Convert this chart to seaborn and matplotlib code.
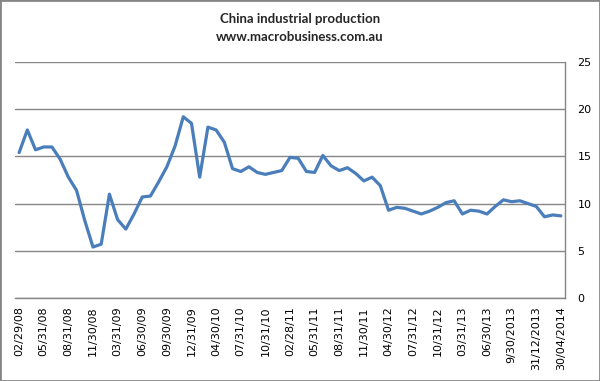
import matplotlib
matplotlib.use('Agg')
import matplotlib.pyplot as plt
import matplotlib.patches as patches
import seaborn as sns
import pandas as pd

# China industrial production, y/y % (monthly, Jan-Feb often combined)
dates = ['02/29/08', '03/31/08', '04/30/08', '05/31/08', '06/30/08', '07/31/08', '08/31/08',
         '09/30/08', '10/31/08', '11/30/08', '12/31/08', '02/28/09', '03/31/09', '04/30/09',
         '05/31/09', '06/30/09', '07/31/09', '08/31/09', '09/30/09', '10/31/09', '11/30/09',
         '12/31/09', '02/28/10', '03/31/10', '04/30/10', '05/31/10', '06/30/10', '07/31/10',
         '08/31/10', '09/30/10', '10/31/10', '11/30/10', '12/31/10', '02/28/11', '03/31/11',
         '04/30/11', '05/31/11', '06/30/11', '07/31/11', '08/31/11', '09/30/11', '10/31/11',
         '11/30/11', '12/31/11', '03/31/12', '04/30/12', '05/31/12', '06/30/12', '07/31/12',
         '08/31/12', '09/30/12', '10/31/12', '11/30/12', '12/31/12', '03/31/13', '04/30/13',
         '05/31/13', '06/30/13', '07/31/13', '08/31/13', '9/30/2013', '10/31/2013', '11/30/2013',
         '31/12/2013', '28/02/2014', '31/03/2014', '30/04/2014']
values = [15.4, 17.8, 15.7, 16.0, 16.0, 14.7, 12.8, 11.4, 8.2, 5.4, 5.7,
          11.0, 8.3, 7.3, 8.9, 10.7, 10.8, 12.3, 13.9, 16.1, 19.2, 18.5,
          12.8, 18.1, 17.8, 16.5, 13.7, 13.4, 13.9, 13.3, 13.1, 13.3, 13.5,
          14.9, 14.8, 13.4, 13.3, 15.1, 14.0, 13.5, 13.8, 13.2, 12.4, 12.8,
          11.9, 9.3, 9.6, 9.5, 9.2, 8.9, 9.2, 9.6, 10.1, 10.3,
          8.9, 9.3, 9.2, 8.9, 9.7, 10.4, 10.2, 10.3, 10.0, 9.7,
          8.6, 8.8, 8.7]

df = pd.DataFrame({'pos': range(len(values)), 'value': values})

sns.set_style('white')
plt.rcParams['font.family'] = ['DejaVu Sans']

fig = plt.figure(figsize=(6, 3.81), dpi=100)
ax = fig.add_axes([15/600, 1 - 298/381, 550/600, 236/381])

sns.lineplot(data=df, x='pos', y='value', ax=ax, color='#4A7EBB', linewidth=2.3)

grid_c = '#868686'
ax.set_xlim(-0.5, len(values) - 0.5)
ax.set_ylim(0, 25)
ax.set_yticks([0, 5, 10, 15, 20, 25])
ax.yaxis.tick_right()
ax.grid(axis='y', color=grid_c, linewidth=1)
ax.set_axisbelow(True)
ax.set_xticks(range(0, len(values), 3))
ax.set_xticklabels(dates[::3], rotation=90)
ax.tick_params(axis='x', length=0, pad=6, labelsize=8, colors='black')
ax.tick_params(axis='y', length=0, pad=9, labelsize=8, colors='black')
for s in ['top', 'left']:
    ax.spines[s].set_visible(False)
for s in ['right', 'bottom']:
    ax.spines[s].set_color(grid_c)
    ax.spines[s].set_linewidth(1)
ax.set_xlabel('')
ax.set_ylabel('')

fig.text(0.5, 1 - 19/381, 'China industrial production', ha='center', va='center',
         fontsize=9.5, fontweight='bold', family='Lato')
fig.text(0.5, 1 - 37/381, 'www.macrobusiness.com.au', ha='center', va='center',
         fontsize=9.5, fontweight='bold', family='Lato')

fig.patches.append(patches.Rectangle((0, 0), 1, 1, transform=fig.transFigure, fill=False,
                                     edgecolor=grid_c, linewidth=2))

fig.savefig('out.png', dpi=100)
